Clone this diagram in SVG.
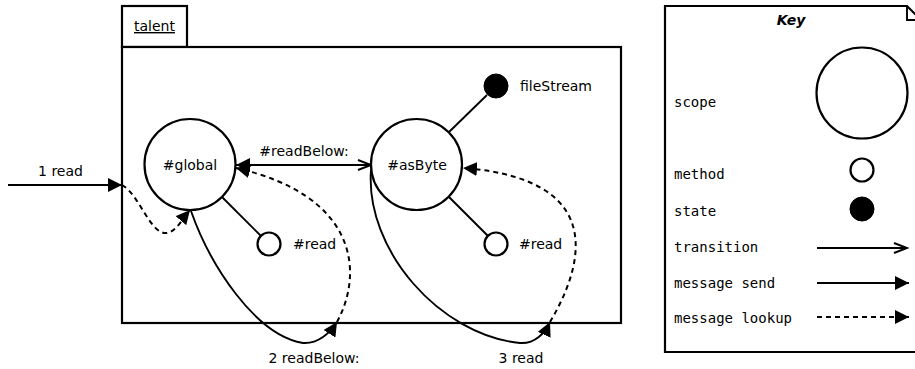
<svg xmlns="http://www.w3.org/2000/svg" width="915" height="369" viewBox="0 0 915 369">
<style>
.t{font-family:"DejaVu Sans",sans-serif;font-size:14px;fill:#000}
.m{font-family:"DejaVu Sans Mono",monospace;font-size:14px;fill:#000}
.box{fill:#fff;stroke:#000;stroke-width:2.2}
.c{fill:#fff;stroke:#000;stroke-width:2.2}
.s{fill:#000;stroke:#000;stroke-width:1}
.ln{fill:none;stroke:#000;stroke-width:1.9}
.d{fill:none;stroke:#000;stroke-width:2;stroke-dasharray:5 4}
</style>
<defs>
<marker id="fa" viewBox="0 0 14 14" refX="14" refY="7" markerWidth="14" markerHeight="14" markerUnits="userSpaceOnUse" orient="auto-start-reverse">
<path d="M0,0 L14,7 L0,14 Z" fill="#000"/>
</marker>
<marker id="oa" viewBox="-1 -1 16 12" refX="13" refY="5" markerWidth="16" markerHeight="12" markerUnits="userSpaceOnUse" orient="auto">
<path d="M0,0 L13,5 L0,10" fill="none" stroke="#000" stroke-width="1.9"/>
</marker>
</defs>
<g id="talent">
<rect class="box" x="122" y="6" width="65" height="41"/>
<rect class="box" x="122" y="47" width="499" height="276"/>
<text class="t" x="134" y="31" text-decoration="underline">talent</text>
</g>
<g id="connectors">
<line class="ln" x1="449" y1="132" x2="487" y2="95"/>
<line class="ln" x1="222" y1="197" x2="261" y2="236"/>
<line class="ln" x1="449" y1="197" x2="488" y2="236"/>
<path class="ln" d="M8,185 L122,185" marker-end="url(#fa)"/>
<path class="d" d="M122,185 C140,195 150,235 167,233 C176,232 184,217 190,210" marker-end="url(#fa)"/>
<path class="ln" d="M236,165 L371,165" marker-start="url(#fa)" marker-end="url(#oa)"/>
<path class="ln" d="M191,211 C210,265 255,335 303,343 C318,344 330,333 337,322" marker-end="url(#fa)"/>
<path class="d" d="M337,322 C365,270 355,195 236,168" marker-end="url(#fa)"/>
<path class="ln" d="M371,170 C365,250 440,335 520,343 C535,344 545,333 550,322" marker-end="url(#fa)"/>
<path class="d" d="M550,322 C575,280 620,180 463,168" marker-end="url(#fa)"/>
<text class="t" x="60.5" y="176" text-anchor="middle">1 read</text>
<text class="t" x="304" y="156" text-anchor="middle">#readBelow:</text>
<text class="t" x="314" y="363" text-anchor="middle">2 readBelow:</text>
<text class="t" x="521" y="363" text-anchor="middle">3 read</text>
</g>
<g id="global">
<circle class="c" cx="190" cy="164.5" r="45.5"/>
<text class="t" x="190" y="170" text-anchor="middle">#global</text>
</g>
<g id="asByte">
<circle class="c" cx="416.5" cy="164.5" r="45.5"/>
<text class="t" x="417" y="170" text-anchor="middle">#asByte</text>
</g>
<g id="fileStream">
<circle class="s" cx="496" cy="86" r="12"/>
<text class="t" x="520" y="91">fileStream</text>
</g>
<g id="read1">
<circle class="c" cx="269" cy="244" r="11.5"/>
<text class="t" x="293" y="249">#read</text>
</g>
<g id="read2">
<circle class="c" cx="496" cy="244" r="11.5"/>
<text class="t" x="519" y="249">#read</text>
</g>
<g id="key">
<path class="box" d="M665,6 L907,6 L921,20 L921,352 L665,352 Z"/>
<path class="ln" d="M907,6 L907,20 L921,20" stroke-width="1.2"/>
<text class="t" x="791" y="25" text-anchor="middle" font-weight="bold" font-style="italic">Key</text>
<text class="m" x="674" y="106.5">scope</text>
<circle class="c" cx="862" cy="93" r="45.5"/>
<text class="m" x="674" y="179">method</text>
<circle class="c" cx="862" cy="170" r="11.5"/>
<text class="m" x="674" y="216">state</text>
<circle class="s" cx="862" cy="209" r="12"/>
<text class="m" x="674" y="251.5">transition</text>
<path class="ln" d="M817,248 L907,248" marker-end="url(#oa)"/>
<text class="m" x="674" y="288">message send</text>
<path class="ln" d="M817,283 L909,283" marker-end="url(#fa)"/>
<text class="m" x="674" y="323">message lookup</text>
<path class="d" d="M817,317 L909,317" marker-end="url(#fa)"/>
</g>
</svg>
